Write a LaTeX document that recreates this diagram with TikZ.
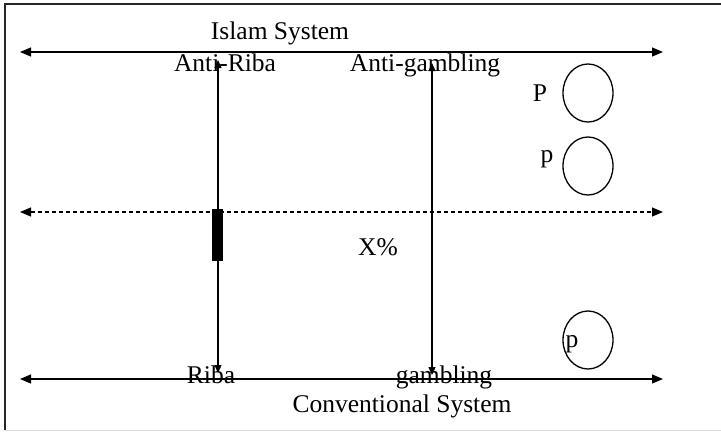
\documentclass[tikz,border=0pt]{standalone}
\usepackage{fontspec}
\setmainfont{Liberation Serif}
\usetikzlibrary{arrows.meta,shapes.geometric}
\begin{document}
\begin{tikzpicture}[x=1pt,y=-1pt,
  lbl/.style={inner sep=0pt,anchor=base,font=\fontsize{25.5}{30}\selectfont},
  axis/.style={line width=1.2pt,{Triangle[length=11pt,width=9pt]}-{Triangle[length=11pt,width=9pt]}},
  vert/.style={line width=1.2pt,{Triangle[length=8pt,width=7pt]}-{Triangle[length=8pt,width=7pt]}},
  circ/.style={draw,line width=1.3pt,ellipse,minimum width=50pt,minimum height=58pt,inner sep=0pt}]
\useasboundingbox (0,0) rectangle (721,432);
% frame
\draw[line width=1.4pt,black!85] (5,430) -- (5,4) -- (721,4);
\draw[line width=1pt,black!15] (5,430) -- (721,430);
% horizontal axes
\coordinate (tl) at (20,52); \coordinate (tr) at (663,52);
\coordinate (ml) at (20,212); \coordinate (mr) at (663,212);
\coordinate (bl) at (20,379); \coordinate (br) at (663,379);
\draw[axis] (tl) -- (tr);
\draw[axis,dash pattern=on 4pt off 3pt] (ml) -- (mr);
\draw[axis] (bl) -- (br);
% vertical arrows
\coordinate (v1t) at (218,60); \coordinate (v1b) at (218,373);
\coordinate (v2t) at (432,63); \coordinate (v2b) at (432,375);
\draw[vert] (v1t) -- (v1b);
\draw[vert] (v2t) -- (v2b);
% black bar
\fill (212,209) rectangle (223,261);
% circles
\node[circ] (c1) at (588,93) {};
\node[circ] (c2) at (588,166) {};
\node[circ] (c3) at (588,340) {};
% labels
\node[lbl] (islam) at (280,39) {Islam System};
\node[lbl] (antiriba) at (225,71) {Anti-Riba};
\node[lbl] (antigamb) at (425,71) {Anti-gambling};
\node[lbl] (P) at (540,101) {P};
\node[lbl] (p1) at (547,162) {p};
\node[lbl] (xp) at (378,255) {X\%};
\node[lbl] (p2) at (572,347) {p};
\node[lbl] (riba) at (211,383) {Riba};
\node[lbl] (gamb) at (444,383) {gambling};
\node[lbl] (conv) at (402,412) {Conventional System};
\end{tikzpicture}
\end{document}
